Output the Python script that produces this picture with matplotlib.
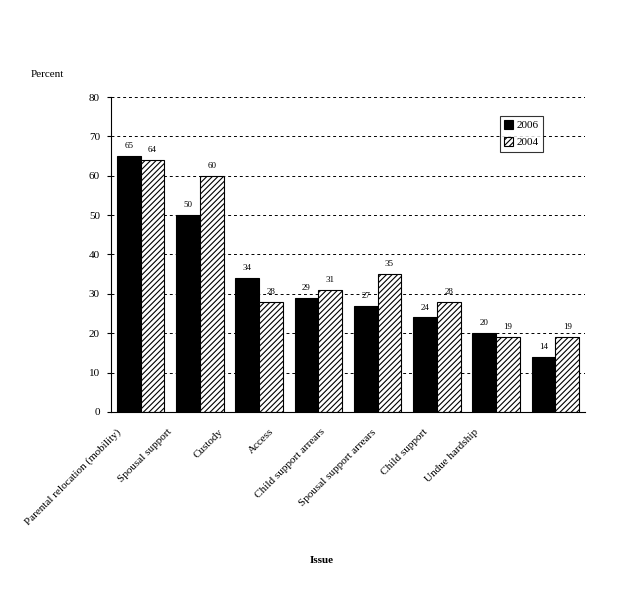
import numpy as np
import matplotlib
matplotlib.use("Agg")
import matplotlib.pyplot as plt

plt.rcParams["font.family"] = ["Liberation Serif", "DejaVu Serif"]
plt.rcParams["hatch.linewidth"] = 0.8

issues = [
    "Parental relocation (mobility)",
    "Spousal support",
    "Custody",
    "Access",
    "Child support arrears",
    "Spousal support arrears",
    "Child support",
    "Undue hardship",
]
pct_2006 = [65, 50, 34, 29, 27, 24, 20, 14]
pct_2004 = [64, 60, 28, 31, 35, 28, 19, 19]

fig = plt.figure(figsize=(6.18, 6.04), dpi=100)
ax = fig.add_axes([0.1796, 0.3179, 0.767, 0.5215])

x = np.arange(len(issues))
w = 0.4
b1 = ax.bar(x - w / 2, pct_2006, w, color="black", edgecolor="black",
            linewidth=0.8, label="2006")
b2 = ax.bar(x + w / 2, pct_2004, w, color="white", edgecolor="black",
            hatch="//////", linewidth=0.8, label="2004")

for bars in (b1, b2):
    for r in bars:
        ax.text(r.get_x() + r.get_width() / 2, r.get_height() + 1.5,
                f"{int(r.get_height())}", ha="center", va="bottom", fontsize=6.5)

ax.set_xlim(-0.5, len(issues) - 0.5)
ax.set_ylim(0, 80)
ax.set_yticks(range(0, 81, 10))
ax.yaxis.grid(True, linestyle=(0, (3, 3)), color="black", linewidth=0.7)
ax.set_axisbelow(True)
ax.spines["top"].set_visible(False)
ax.spines["right"].set_visible(False)
ax.tick_params(axis="y", labelsize=8, length=3, direction="out", pad=5)
ax.tick_params(axis="x", length=0, labelsize=8, pad=11)

# the category labels in the original sit on a tighter pitch than the bars
label_pos = -0.4156 + 0.8624 * x
ax.set_xticks(label_pos)
ax.set_xticklabels(issues, rotation=45, ha="right", rotation_mode="anchor")

ax.text(-0.169, 1.07, "Percent", transform=ax.transAxes, fontsize=8,
        ha="left", va="center")
fig.text(0.521, 0.072, "Issue", ha="center", va="center", fontsize=8,
         fontweight="bold")

leg = ax.legend(loc="upper left", bbox_to_anchor=(0.82, 0.94), fontsize=8,
                frameon=True, fancybox=False, edgecolor="black",
                handlelength=0.8, handleheight=0.8, handletextpad=0.3,
                borderpad=0.4, labelspacing=0.6, borderaxespad=0)
leg.get_frame().set_linewidth(0.8)

fig.savefig("out.png", dpi=100)
